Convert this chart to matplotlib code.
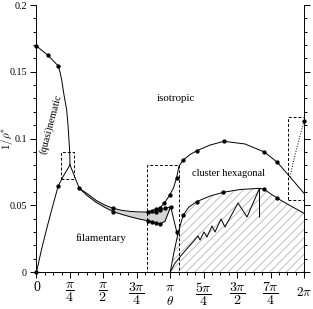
import numpy as np
import matplotlib
matplotlib.use("Agg")
import matplotlib.pyplot as plt
from matplotlib.patches import Rectangle

plt.rcParams['font.family'] = 'serif'
plt.rcParams['font.serif'] = ['Liberation Serif', 'DejaVu Serif']
plt.rcParams['mathtext.fontset'] = 'cm'
plt.rcParams['hatch.linewidth'] = 0.6

# nematic / isotropic boundary (upper left)
nem_theta = [0.0, 0.263, 0.512, 0.552, 0.592, 0.646, 0.709, 0.740, 0.763, 0.780, 0.787]
nem_v = [0.1693, 0.1625, 0.1543, 0.1498, 0.1438, 0.1326, 0.1213, 0.1101, 0.0989, 0.0899, 0.0802]
nem_dots_theta = [0.0, 0.263, 0.512]
nem_dots_v = [0.1693, 0.1625, 0.1543]

# filamentary boundary rising from origin to the peak
fil_theta = [0.0, 0.13, 0.26, 0.39, 0.512, 0.646, 0.787]
fil_v = [0.0, 0.0185, 0.035, 0.0505, 0.0646, 0.0727, 0.0802]
fil_dots_theta = [0.0, 0.512]
fil_dots_v = [0.0, 0.0646]

# peak down to the band
peak_theta = [0.787, 1.005]
peak_v = [0.0802, 0.0627]

# grey band: upper and lower edges
band_up_theta = [1.005, 1.2, 1.4, 1.6, 1.804, 2.0, 2.2, 2.4, 2.612, 2.706, 2.807, 2.901, 3.018, 3.152]
band_up_v = [0.0627, 0.0585, 0.0537, 0.0502, 0.0477, 0.0462, 0.0454, 0.0450, 0.0449, 0.0444, 0.0452, 0.0464, 0.0476, 0.0489]
band_lo_theta = [1.005, 1.2, 1.4, 1.6, 1.804, 2.0, 2.2, 2.4, 2.612, 2.706, 2.807, 2.901, 3.018, 3.152]
band_lo_v = [0.0627, 0.0570, 0.0522, 0.0485, 0.0452, 0.0432, 0.0414, 0.0398, 0.0384, 0.0373, 0.0366, 0.0360, 0.0380, 0.0489]
band_up_dots_theta = [1.005, 1.804, 2.807, 2.901, 3.018, 3.152]
band_up_dots_v = [0.0627, 0.0477, 0.0452, 0.0464, 0.0476, 0.0489]
band_lo_dots_theta = [1.804, 2.612, 2.706, 2.807, 2.901]
band_lo_dots_v = [0.0452, 0.0384, 0.0373, 0.0366, 0.0360]

# drop after the spike
spike_theta = [3.152, 3.293, 3.312]
spike_v = [0.0489, 0.0302, 0.0270]

# isotropic / cluster hexagonal boundary
iso_theta = [2.612, 2.706, 2.807, 2.901, 3.002, 3.129, 3.218, 3.289, 3.347, 3.448, 3.606,
             3.777, 4.076, 4.405, 4.898, 5.351, 5.657, 5.955, 6.283]
iso_v = [0.0452, 0.0459, 0.0470, 0.0482, 0.0515, 0.0577, 0.0629, 0.0704, 0.0794, 0.0839, 0.0880,
         0.0910, 0.0951, 0.0979, 0.0959, 0.0899, 0.0822, 0.0712, 0.0590]
iso_dots_theta = [2.612, 2.706, 2.807, 2.901, 3.002, 3.129, 3.289, 3.448, 3.777, 4.405, 5.351, 5.657]
iso_dots_v = [0.0452, 0.0459, 0.0470, 0.0482, 0.0515, 0.0577, 0.0704, 0.0839, 0.0910, 0.0979, 0.0899, 0.0822]

# dotted branch in the right box
dot_theta = [6.283, 6.166, 6.072, 5.99, 5.955]
dot_v = [0.1131, 0.0989, 0.0876, 0.0764, 0.0712]

# hatched region top boundary
hex_theta = [3.142, 3.207, 3.265, 3.312, 3.371, 3.448, 3.582, 3.763, 4.076, 4.388, 4.781,
             5.250, 5.351, 5.657, 5.955, 6.283]
hex_v = [0.0, 0.0112, 0.0202, 0.0270, 0.0345, 0.0427, 0.0487, 0.0527, 0.0569, 0.0597, 0.0618,
         0.0627, 0.0619, 0.0552, 0.0498, 0.0440]
hex_dots_theta = [3.448, 3.763, 4.388, 5.351, 5.657]
hex_dots_v = [0.0427, 0.0527, 0.0597, 0.0619, 0.0552]

# lower curve and sawtooth inside the hatched region
saw_theta = [3.142, 3.25, 3.40, 3.55, 3.676, 3.794, 3.841, 3.935, 4.005, 4.123, 4.193,
             4.334, 4.428, 4.734, 4.945, 5.238, 5.238]
saw_v = [0.0, 0.0065, 0.0125, 0.0180, 0.0225, 0.0270, 0.0240, 0.0300, 0.0262, 0.0345, 0.0300,
         0.0397, 0.0337, 0.0517, 0.0412, 0.0627, 0.0412]

# zoom boxes (theta0, theta1, v0, v1)
boxes = [(0.5755, 0.888, 0.0697, 0.0897),
         (2.596, 3.347, 0.0, 0.080),
         (5.915, 6.283, 0.054, 0.1163)]

xticks = [0, np.pi/4, np.pi/2, 3*np.pi/4, np.pi, 5*np.pi/4, 3*np.pi/2, 7*np.pi/4, 2*np.pi]
xticklabels = ['0', r'$\dfrac{\pi}{4}$', r'$\dfrac{\pi}{2}$', r'$\dfrac{3\pi}{4}$', r'$\pi$',
               r'$\dfrac{5\pi}{4}$', r'$\dfrac{3\pi}{2}$', r'$\dfrac{7\pi}{4}$', '']
yticks = [0, 0.05, 0.1, 0.15, 0.2]
yticklabels = ['0', '0.05', '0.1', '0.15', '0.2']

fig = plt.figure(figsize=(3.13, 3.09), dpi=100)
ax = fig.add_axes([0.1166, 0.1197, 0.8546, 0.8641])

lw = 0.7
ms = 2.1

ax.fill_between(hex_theta, 0, hex_v, facecolor='none', edgecolor='#b5b5b5', hatch='////', linewidth=0)
ax.fill_between(band_up_theta, band_lo_v, band_up_v, color='#d4d4d4', linewidth=0)

ax.plot(nem_theta, nem_v, color='k', lw=lw)
ax.plot(fil_theta, fil_v, color='k', lw=lw)
ax.plot(peak_theta, peak_v, color='k', lw=lw)
ax.plot(band_up_theta, band_up_v, color='k', lw=lw)
ax.plot(band_lo_theta, band_lo_v, color='k', lw=lw)
ax.plot(spike_theta, spike_v, color='k', lw=lw)
ax.plot(iso_theta, iso_v, color='k', lw=lw)
ax.plot(dot_theta, dot_v, color='k', lw=lw, ls=':')
ax.plot(hex_theta, hex_v, color='k', lw=lw)
ax.plot(saw_theta, saw_v, color='k', lw=lw)

for tx, vx in [(nem_dots_theta, nem_dots_v), (fil_dots_theta, fil_dots_v),
               (band_up_dots_theta, band_up_dots_v), (band_lo_dots_theta, band_lo_dots_v),
               (iso_dots_theta, iso_dots_v), (hex_dots_theta, hex_dots_v),
               ([3.293], [0.0302]), ([6.283], [0.1131])]:
    ax.plot(tx, vx, 'o', color='k', ms=ms, clip_on=False)

for t0, t1, v0, v1 in boxes:
    ax.add_patch(Rectangle((t0, v0), t1 - t0, v1 - v0, fill=False, ls=(0, (3, 2)),
                           lw=lw, edgecolor='k'))

ax.text(3.265, 0.1296, 'isotropic', ha='center', va='center', fontsize=7.8)
ax.text(0.325, 0.1109, '(quasi)nematic', ha='center', va='center', fontsize=7.5, rotation=75)
ax.text(1.522, 0.0255, 'filamentary', ha='center', va='center', fontsize=7.8)
ax.text(4.506, 0.0739, 'cluster hexagonal', ha='center', va='center', fontsize=7.5)

ax.set_xlim(0, 2*np.pi)
ax.set_ylim(0, 0.2)
ax.set_xticks(xticks)
ax.set_xticklabels(xticklabels, fontsize=10)
ax.set_xticks(np.arange(0, 2*np.pi + 0.01, np.pi/16), minor=True)
ax.set_yticks(yticks)
ax.set_yticklabels(yticklabels, fontsize=7.3)
ax.set_yticks(np.arange(0, 0.2001, 0.01), minor=True)

ax.spines['top'].set_visible(False)
for s in ['left', 'right', 'bottom']:
    ax.spines[s].set_linewidth(0.7)
ax.tick_params(axis='x', which='major', direction='out', length=4.5, width=0.7, pad=2)
ax.tick_params(axis='x', which='minor', direction='out', length=2.5, width=0.7)
ax.tick_params(axis='y', which='both', right=True, direction='out', width=0.7)
ax.tick_params(axis='y', which='major', length=4.5, pad=2.5)
ax.tick_params(axis='y', which='minor', length=2.5)

ax.annotate(r'$2\pi$', xy=(2*np.pi, 0), xycoords=('data', 'axes fraction'),
            xytext=(0, -15), textcoords='offset points', ha='center', va='center', fontsize=9.5)
ax.annotate(r'$\theta$', xy=(np.pi, 0), xycoords=('data', 'axes fraction'),
            xytext=(0, -21.5), textcoords='offset points', ha='center', va='center', fontsize=9.5)

ax.set_ylabel(r'$1/\rho^{*}$', fontsize=8)
ax.yaxis.set_label_coords(-0.082, 0.5)

fig.savefig('out.png', dpi=100)
